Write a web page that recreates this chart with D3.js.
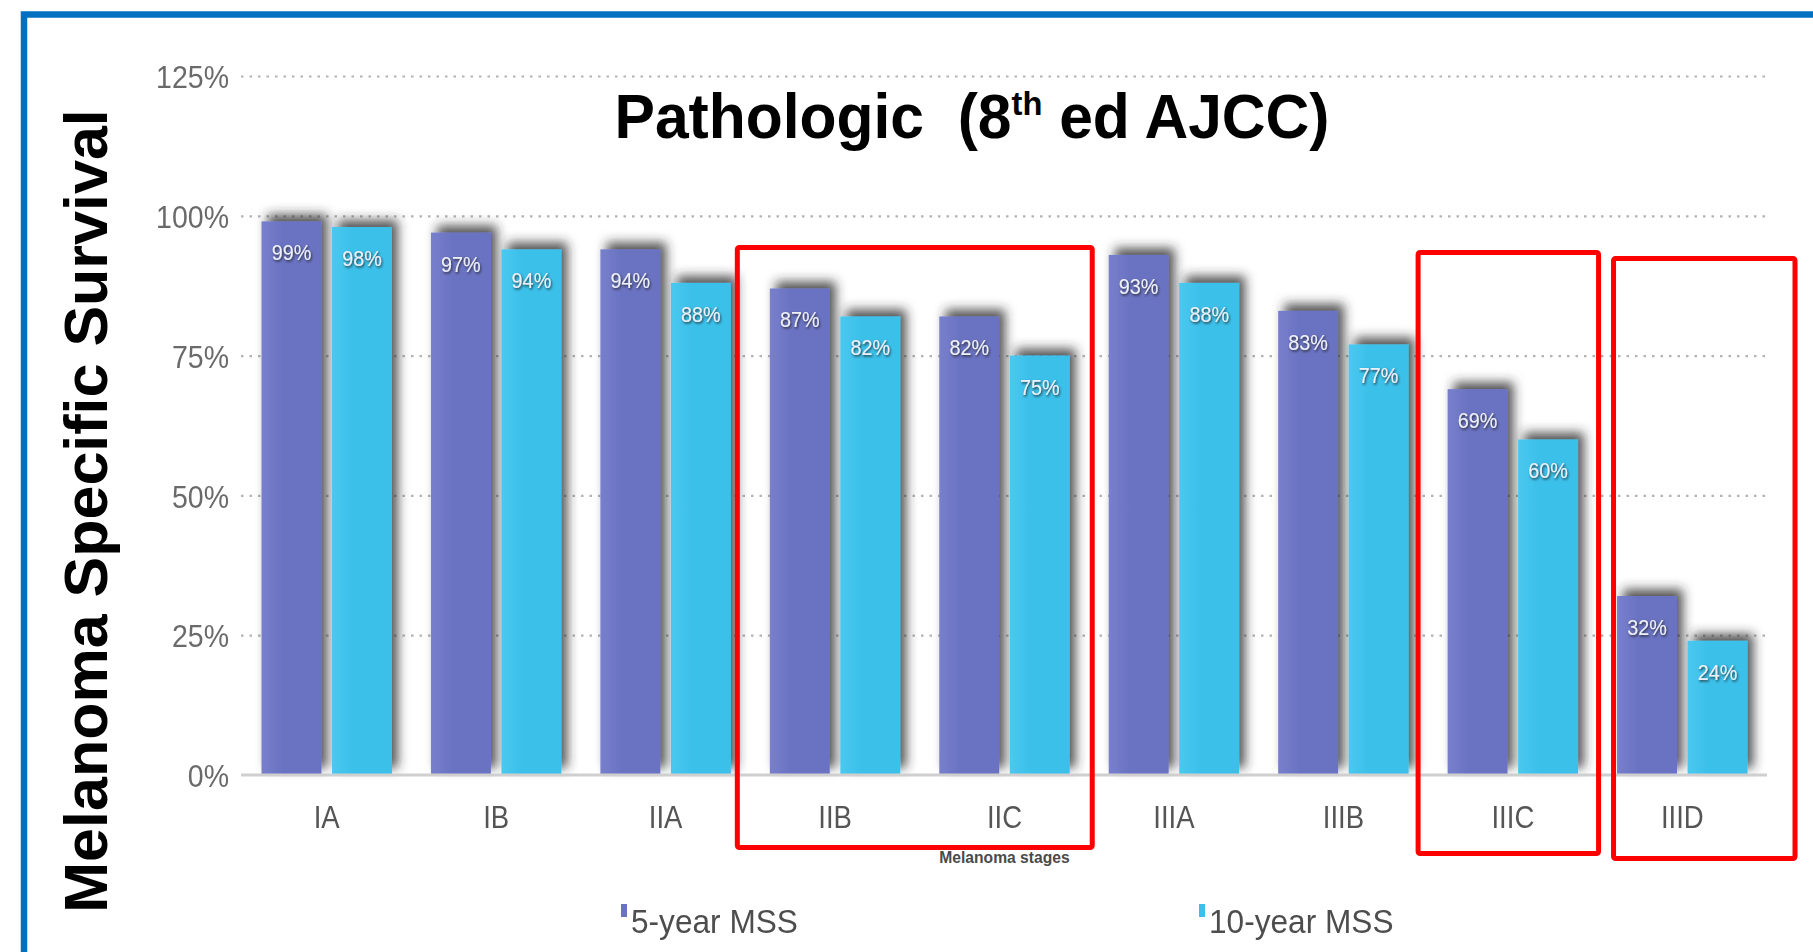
<!DOCTYPE html>
<html>
<head>
<meta charset="utf-8">
<script src="https://cdn.jsdelivr.net/npm/d3@7"></script>
<style>
  html, body { margin: 0; padding: 0; background: #ffffff; }
  svg { display: block; }
  text { font-family: "Liberation Sans", Arial, sans-serif; }
</style>
</head>
<body>
<script>
// Melanoma-specific survival by pathologic stage (AJCC 8th edition)
const stages = ["IA", "IB", "IIA", "IIB", "IIC", "IIIA", "IIIB", "IIIC", "IIID"];
const mss5 = [99, 97, 94, 87, 82, 93, 83, 69, 32];
const mss10 = [98, 94, 88, 82, 75, 88, 77, 60, 24];
const seriesNames = ["5-year MSS", "10-year MSS"];
const yTicks = [0, 25, 50, 75, 100, 125];
// stage groups outlined in red
const highlights = [["IIB", "IIC"], ["IIIC", "IIIC"], ["IIID", "IIID"]];

const W = 1813, H = 952;
const colors = { "5-year MSS": "#6a73c2", "10-year MSS": "#3bc0ea" };

const svg = d3.select("body").append("svg").attr("width", W).attr("height", H);
const defs = svg.append("defs");

defs.append("filter").attr("id", "barShadow")
  .attr("x", "-40%").attr("y", "-40%").attr("width", "180%").attr("height", "180%")
  .append("feDropShadow")
  .attr("dx", 6).attr("dy", -7).attr("stdDeviation", 5.5)
  .attr("flood-color", "#2a2a2a").attr("flood-opacity", 0.8);

defs.append("filter").attr("id", "labelShadow")
  .attr("x", "-20%").attr("y", "-40%").attr("width", "140%").attr("height", "180%")
  .append("feDropShadow")
  .attr("dx", 1).attr("dy", 1.5).attr("stdDeviation", 0.8)
  .attr("flood-color", "#222").attr("flood-opacity", 0.85);

// slight softness on the small chart lettering
defs.append("filter").attr("id", "soft")
  .append("feGaussianBlur").attr("stdDeviation", 0.45);

function gradient(id, light, base) {
  const g = defs.append("linearGradient").attr("id", id)
    .attr("x1", "0%").attr("x2", "100%").attr("y1", "0%").attr("y2", "0%");
  g.append("stop").attr("offset", "0%").attr("stop-color", light);
  g.append("stop").attr("offset", "35%").attr("stop-color", base);
  g.append("stop").attr("offset", "100%").attr("stop-color", base);
}
gradient("g5", "#7880cc", colors["5-year MSS"]);
gradient("g10", "#4ac8ef", colors["10-year MSS"]);
const fills = { "5-year MSS": "url(#g5)", "10-year MSS": "url(#g10)" };

// squeeze text horizontally to a narrower face
function condense(sel, k) {
  sel.each(function () {
    const L = this.getComputedTextLength();
    this.setAttribute("textLength", L * k);
    this.setAttribute("lengthAdjust", "spacingAndGlyphs");
  });
}

// scales
const x = d3.scaleBand().domain(stages).range([242, 1767])
  .paddingInner(0.23).paddingOuter(0.115);
const xs = d3.scaleBand().domain(seriesNames).range([0, x.bandwidth()])
  .paddingInner(0.15).paddingOuter(0);
const y = d3.scaleLinear().domain([0, 125]).range([775, 76]);

// dotted gridlines
const grid = svg.append("g")
  .attr("transform", "translate(241,0)")
  .call(d3.axisLeft(y).tickValues(yTicks.filter(t => t > 0))
    .tickSize(-(1767 - 241)).tickFormat(""));
grid.select(".domain").remove();
grid.selectAll(".tick line")
  .attr("stroke", "#b3b3b3").attr("stroke-width", 2.2)
  .attr("stroke-dasharray", "2.5,6");

// y tick labels
const yAxis = svg.append("g").attr("transform", "translate(229,0)")
  .attr("filter", "url(#soft)")
  .call(d3.axisLeft(y).tickValues(yTicks).tickSize(0).tickPadding(0)
    .tickFormat(d => d + "%"));
yAxis.select(".domain").remove();
yAxis.selectAll("text")
  .attr("fill", "#6a6a6a").attr("font-size", 31).attr("dy", "0.38em");
condense(yAxis.selectAll("text"), 0.92);

// bars
const rows = stages.map((s, i) => ({ stage: s, values: [
  { key: seriesNames[0], v: mss5[i] },
  { key: seriesNames[1], v: mss10[i] }] }));

const groups = svg.append("g").selectAll("g").data(rows).join("g")
  .attr("transform", d => `translate(${x(d.stage)},0)`);

groups.selectAll("rect").data(d => d.values).join("rect")
  .attr("x", d => xs(d.key))
  .attr("y", d => y(d.v))
  .attr("width", xs.bandwidth())
  .attr("height", d => y(0) - y(d.v))
  .attr("fill", d => fills[d.key])
  .attr("filter", "url(#barShadow)");

const valueLabels = groups.selectAll("text.val").data(d => d.values).join("text")
  .attr("class", "val")
  .attr("x", d => xs(d.key) + xs.bandwidth() / 2)
  .attr("y", d => y(d.v) + 39)
  .attr("text-anchor", "middle")
  .attr("font-size", 22)
  .attr("fill", "#eef0f8")
  .attr("filter", "url(#labelShadow)")
  .text(d => d.v + "%");
condense(valueLabels, 0.9);

// baseline
svg.append("line")
  .attr("x1", 241).attr("x2", 1767).attr("y1", y(0)).attr("y2", y(0))
  .attr("stroke", "#cfcfcf").attr("stroke-width", 3);

// x axis labels
const xAxis = svg.append("g").attr("transform", `translate(0,${y(0)})`)
  .attr("filter", "url(#soft)")
  .call(d3.axisBottom(x).tickSize(0).tickPadding(30));
xAxis.select(".domain").remove();
xAxis.selectAll("text").attr("fill", "#555").attr("font-size", 32);
condense(xAxis.selectAll("text"), 0.86);

// axis title under the stages
const xTitle = svg.append("text")
  .attr("x", (242 + 1767) / 2).attr("y", 863)
  .attr("text-anchor", "middle").attr("font-size", 17).attr("font-weight", "bold")
  .attr("fill", "#4a4a4a").text("Melanoma stages");
condense(xTitle, 0.92);

// legend
const legendX = [621, 1199];
const legend = svg.append("g").attr("filter", "url(#soft)")
  .selectAll("g").data(seriesNames).join("g")
  .attr("transform", (d, i) => `translate(${legendX[i]},0)`);
legend.append("rect").attr("x", 0).attr("y", 904).attr("width", 6).attr("height", 13)
  .attr("fill", d => colors[d]);
const legendText = legend.append("text").attr("x", 10).attr("y", 933)
  .attr("font-size", 34).attr("fill", "#4e4e4e").text(d => d);
condense(legendText, 0.93);

// chart title
const title = svg.append("text")
  .attr("x", 972).attr("y", 138).attr("text-anchor", "middle")
  .attr("font-size", 63).attr("font-weight", "bold").attr("fill", "#000")
  .style("white-space", "pre");
title.append("tspan").text("Pathologic  (8");
title.append("tspan").attr("font-size", 34).attr("dy", -23).text("th");
title.append("tspan").attr("dy", 23).text(" ed AJCC)");
{
  const L = title.node().getComputedTextLength();
  const k = 715 / L;
  title.attr("transform", `translate(972,0) scale(${k},1) translate(-972,0)`);
}

// vertical axis title
svg.append("text")
  .attr("transform", "translate(107,511) rotate(-90)")
  .attr("text-anchor", "middle").attr("font-size", 61).attr("font-weight", "bold")
  .attr("fill", "#000").text("Melanoma Specific Survival");

// red outlines around highlighted stages
const pads = [[35, 25], [32, 23], [6, 50]];
const tops = [245, 250, 256];
const bottoms = [850, 856, 861];
svg.append("g").selectAll("rect").data(highlights).join("rect")
  .attr("x", (d, i) => x(d[0]) - pads[i][0] + 2.5)
  .attr("y", (d, i) => tops[i] + 2.5)
  .attr("width", (d, i) => x(d[1]) + x.bandwidth() + pads[i][1] - (x(d[0]) - pads[i][0]) - 5)
  .attr("height", (d, i) => bottoms[i] - tops[i] - 5)
  .attr("rx", 2)
  .attr("fill", "none").attr("stroke", "#ff0000").attr("stroke-width", 5);

// slide frame
svg.append("rect")
  .attr("x", 24).attr("y", 14.5).attr("width", W + 20).attr("height", H + 20)
  .attr("fill", "none").attr("stroke", "#0070c0").attr("stroke-width", 6.5);
</script>
</body>
</html>
